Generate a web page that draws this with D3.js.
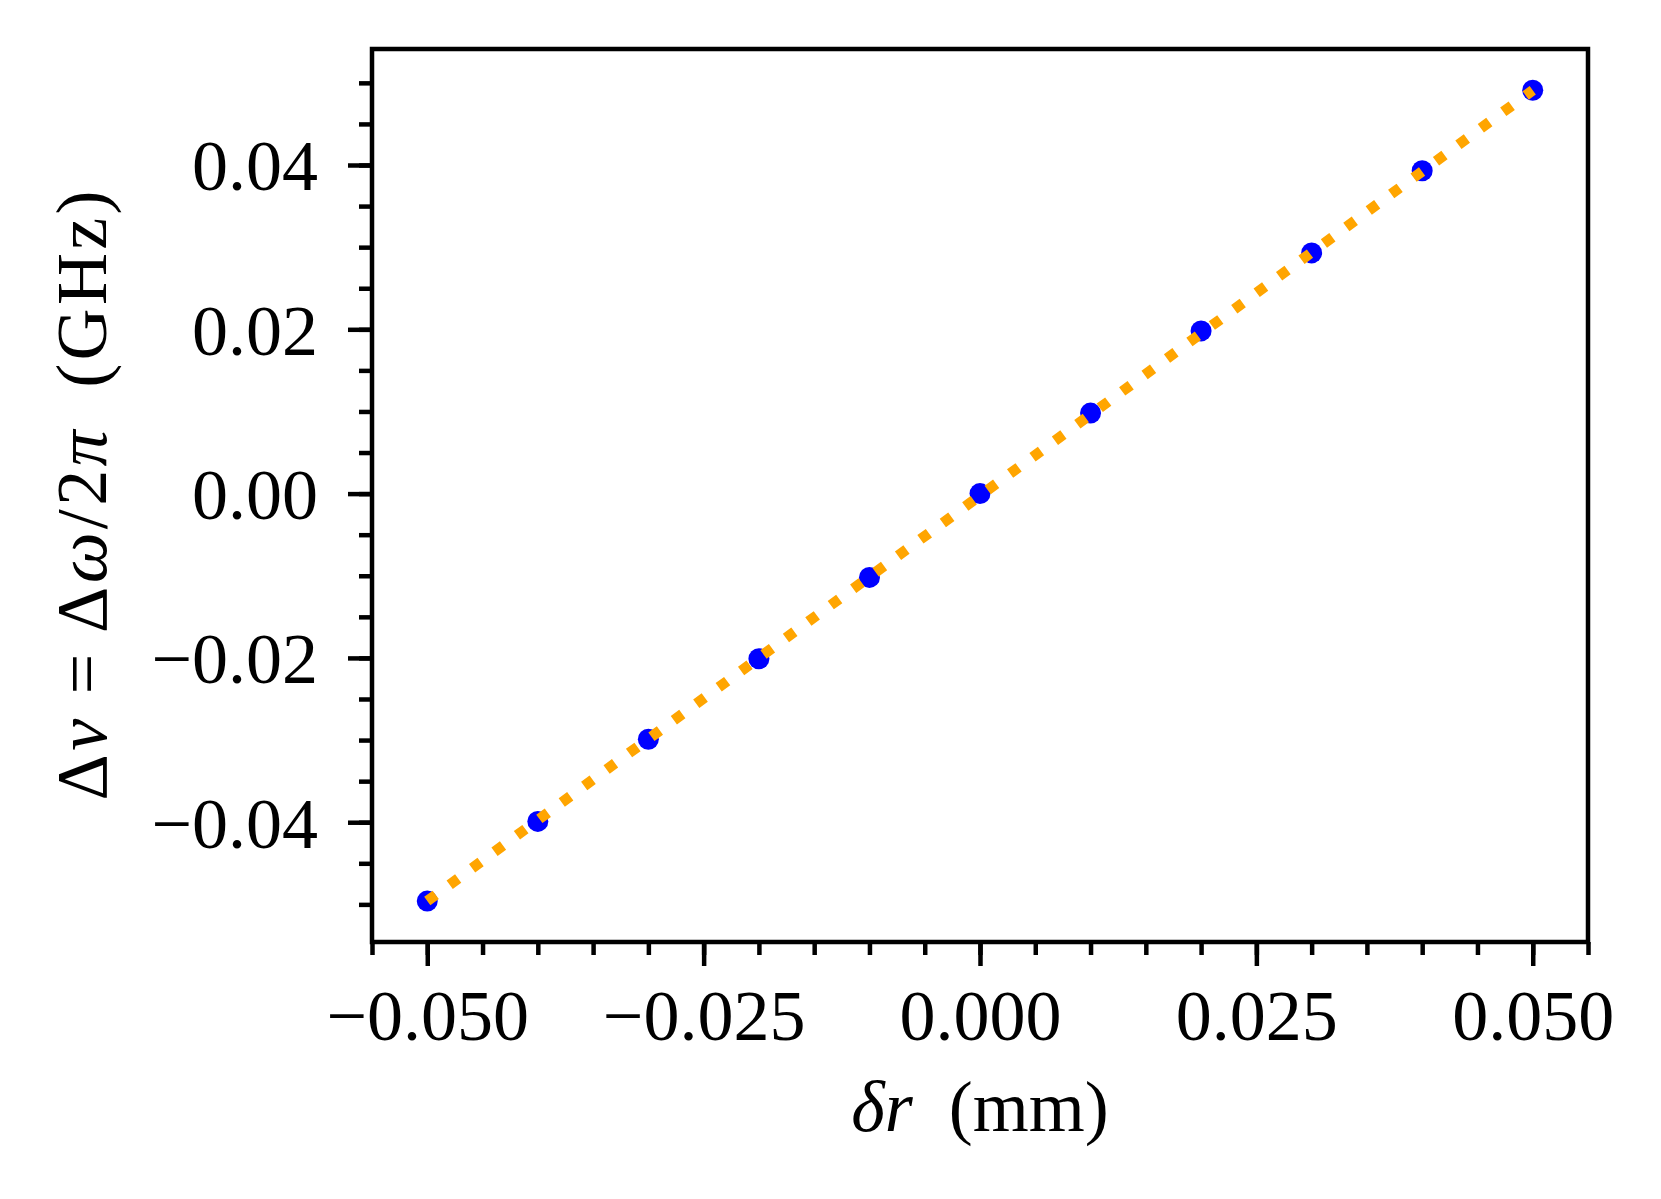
<!DOCTYPE html>
<html>
<head>
<meta charset="utf-8">
<script src="https://d3js.org/d3.v7.min.js"></script>
<style>
  body { margin: 0; background: white; }
  text { font-family: "Liberation Serif", "DejaVu Serif", serif; fill: black; }
</style>
</head>
<body>
<script>

// measured shift values per displacement
var shiftX = [-0.05, -0.04, -0.03, -0.02, -0.01, 0.0, 0.01, 0.02, 0.03, 0.04, 0.05];
var shiftY = [-0.0496, -0.0399, -0.0299, -0.0201, -0.0102, 0.0, 0.0098, 0.0198, 0.0293, 0.0393, 0.0491];

// end points of the linear fit
var fitX = [-0.05, 0.05];
var fitY = [-0.0496, 0.0491];

// tick values
var xTicks = [-0.05, -0.025, 0.0, 0.025, 0.05];
var yTicks = [-0.04, -0.02, 0.0, 0.02, 0.04];

// size of the figure and the plot area
// (no "top" here: that name is taken by the window)
var w = 1661;
var h = 1199;
var plotLeft = 372;
var plotRight = 1588;
var plotTop = 49;
var plotBottom = 942;

var fontSize = 72;
var majorLen = 24;
var minorLen = 13;
var tickWidth = 4.5;

var xScale = d3.scaleLinear()
               .domain([-0.055, 0.055])
               .range([plotLeft, plotRight]);

var yScale = d3.scaleLinear()
               .domain([-0.05458, 0.05412])
               .range([plotBottom, plotTop]);

var svg = d3.select("body")
            .append("svg")
            .attr("width", w)
            .attr("height", h);

// minor tick positions every 0.005
var xMinor = d3.range(-11, 12).map(function(i) { return i * 0.005; });
var yMinor = d3.range(-10, 11).map(function(i) { return i * 0.005; });

// x axis: minor ticks first, then major ticks with labels
var xAxisMinor = d3.axisBottom(xScale)
                   .tickValues(xMinor)
                   .tickSize(minorLen)
                   .tickFormat("");

var xAxis = d3.axisBottom(xScale)
              .tickValues(xTicks)
              .tickSize(majorLen)
              .tickFormat(d3.format(".3f"));

svg.append("g")
   .attr("transform", "translate(0," + plotBottom + ")")
   .call(xAxisMinor);

svg.append("g")
   .attr("class", "xmajor")
   .attr("transform", "translate(0," + plotBottom + ")")
   .call(xAxis);

// y axis
var yAxisMinor = d3.axisLeft(yScale)
                   .tickValues(yMinor)
                   .tickSize(minorLen)
                   .tickFormat("");

var yAxis = d3.axisLeft(yScale)
              .tickValues(yTicks)
              .tickSize(majorLen)
              .tickFormat(d3.format(".2f"));

svg.append("g")
   .attr("transform", "translate(" + plotLeft + ",0)")
   .call(yAxisMinor);

svg.append("g")
   .attr("class", "ymajor")
   .attr("transform", "translate(" + plotLeft + ",0)")
   .call(yAxis);

// style all ticks and labels
svg.selectAll(".domain").remove();
svg.selectAll(".tick line")
   .attr("stroke", "black")
   .attr("stroke-width", tickWidth);
svg.selectAll(".tick text")
   .attr("font-family", "Liberation Serif, DejaVu Serif, serif")
   .attr("font-size", fontSize + "px")
   .attr("fill", "black");

svg.selectAll(".xmajor .tick text")
   .attr("dy", null)
   .attr("y", 1040 - plotBottom);

svg.selectAll(".ymajor .tick text")
   .attr("dy", null)
   .attr("x", 318 - plotLeft)
   .attr("y", 25);

// data points
svg.append("g")
   .selectAll("circle")
   .data(shiftX)
   .enter()
   .append("circle")
   .attr("cx", function(d) { return xScale(d); })
   .attr("cy", function(d, i) { return yScale(shiftY[i]); })
   .attr("r", 10.5)
   .attr("fill", "#0000ff");

// dotted fit line on top of the points
var fitLine = d3.line()
                .x(function(d) { return xScale(d); })
                .y(function(d, i) { return yScale(fitY[i]); });

svg.append("path")
   .datum(fitX)
   .attr("d", fitLine)
   .attr("fill", "none")
   .attr("stroke", "#ffa500")
   .attr("stroke-width", 10.5)
   .attr("stroke-dasharray", "10.5,17.3");

// frame round the plot
svg.append("rect")
   .attr("x", plotLeft)
   .attr("y", plotTop)
   .attr("width", plotRight - plotLeft)
   .attr("height", plotBottom - plotTop)
   .attr("fill", "none")
   .attr("stroke", "black")
   .attr("stroke-width", 4.5);

// x label
var xLabel = svg.append("text")
                .attr("x", (plotLeft + plotRight) / 2)
                .attr("y", 1131)
                .attr("text-anchor", "middle")
                .style("font-size", fontSize + "px");
xLabel.append("tspan").style("font-style", "italic").text("δr");
xLabel.append("tspan").text("\u2002(mm)");

// y label, stretched to the width of the original label
var yLabel = svg.append("text")
                .attr("transform", "translate(106," + ((plotTop + plotBottom) / 2) + ") rotate(-90)")
                .attr("text-anchor", "middle")
                .attr("textLength", 610)
                .attr("lengthAdjust", "spacing")
                .style("font-size", fontSize + "px");
yLabel.append("tspan").text("Δ");
yLabel.append("tspan").style("font-style", "italic").text("ν");
yLabel.append("tspan").text(" = Δ");
yLabel.append("tspan").style("font-style", "italic").text("ω");
yLabel.append("tspan").text("/2");
yLabel.append("tspan").style("font-style", "italic").text("π");
yLabel.append("tspan").text("\u2002(GHz)");

</script>
</body>
</html>
